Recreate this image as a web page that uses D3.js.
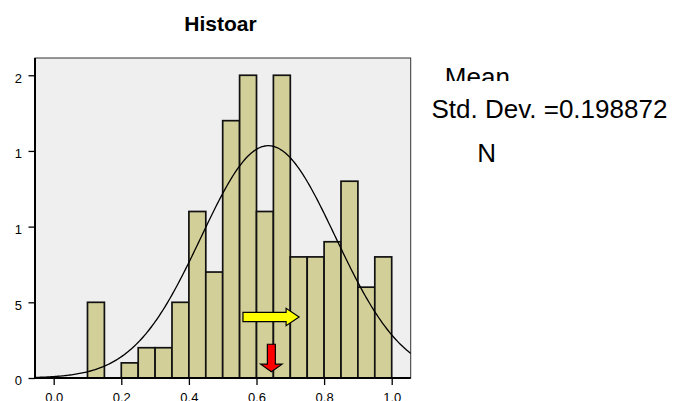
<!DOCTYPE html>
<html>
<head>
<meta charset="utf-8">
<script src="https://cdn.jsdelivr.net/npm/d3@7"></script>
<style>
    body { margin: 0; background: #fff; }
    svg { display: block; font-family: "Liberation Sans", Arial, sans-serif; }
</style>
</head>
<body>
<div id="chart"></div>
<script>
// Histogram bins (start of each 0.05 wide bin) and their counts
const binStarts = [0.10, 0.20, 0.25, 0.30, 0.35, 0.40, 0.45, 0.50, 0.55, 0.60, 0.65, 0.70, 0.75, 0.80, 0.85, 0.90, 0.95];
const counts = [5, 1, 2, 2, 5, 11, 7, 17, 20, 11, 20, 8, 8, 9, 13, 6, 8];
const binWidth = 0.05;

// Axis ticks as printed on the chart
const xTicks = [0.0, 0.2, 0.4, 0.6, 0.8, 1.0];
const xTickLabels = ["0.0", "0.2", "0.4", "0.6", "0.8", "1.0"];
const yTicks = [0, 5, 10, 15, 20];
const yTickLabels = ["0", "5", "1", "1", "2"];

// Normal curve parameters
const mean = 0.635;
const stdDev = 0.198872;
const n = d3.sum(counts);

const title = "Histoar";
const statLabels = ["Mean", "Std. Dev. =0.198872", "N"];

// Set the dimensions
const W = 677, H = 401;
const margin = { top: 58, left: 35 };
const width = 375.7;
const height = 320;

const svg = d3.select("#chart")
    .append("svg")
    .attr("width", W)
    .attr("height", H);

const x = d3.scaleLinear()
    .domain([-0.0553, 1.0562])
    .range([margin.left, margin.left + width]);

const y = d3.scaleLinear()
    .domain([0, 21.14])
    .range([margin.top + height, margin.top]);

// Clip paths for the curve and the cut-off "Mean" label
const defs = svg.append("defs");
defs.append("clipPath").attr("id", "plotClip")
    .append("rect")
    .attr("x", margin.left).attr("y", margin.top)
    .attr("width", width).attr("height", height);
defs.append("clipPath").attr("id", "meanClip")
    .append("rect")
    .attr("x", 420).attr("y", 0)
    .attr("width", 257).attr("height", 81);

// Plot background with thin frame
svg.append("rect")
    .attr("x", margin.left)
    .attr("y", margin.top)
    .attr("width", width)
    .attr("height", height)
    .style("fill", "#efefef")
    .style("stroke", "#333")
    .style("stroke-width", 1);

// Bars
svg.append("g")
    .selectAll("rect")
    .data(binStarts)
    .enter()
    .append("rect")
    .attr("x", d => x(d))
    .attr("y", (d, i) => y(counts[i]))
    .attr("width", d => x(d + binWidth) - x(d))
    .attr("height", (d, i) => y(0) - y(counts[i]))
    .style("fill", "#d3cf99")
    .style("stroke", "#111")
    .style("stroke-width", 1.7);

// Fitted normal curve
const curveX = d3.range(x.domain()[0], x.domain()[1] + 0.004, 0.004);
const density = v => n * binWidth / (stdDev * Math.sqrt(2 * Math.PI)) *
    Math.exp(-0.5 * Math.pow((v - mean) / stdDev, 2));

const line = d3.line()
    .x(d => x(d))
    .y(d => y(density(d)));

svg.append("path")
    .datum(curveX)
    .attr("clip-path", "url(#plotClip)")
    .attr("d", line)
    .style("fill", "none")
    .style("stroke", "#000")
    .style("stroke-width", 1.3);

// Axes
const xAxis = d3.axisBottom(x)
    .tickValues(xTicks)
    .tickSize(7)
    .tickPadding(7.4)
    .tickFormat((d, i) => xTickLabels[i]);

const yAxis = d3.axisLeft(y)
    .tickValues(yTicks)
    .tickSize(6.5)
    .tickPadding(6.5)
    .tickFormat((d, i) => yTickLabels[i]);

const xAxisGroup = svg.append("g")
    .attr("transform", `translate(0, ${margin.top + height})`)
    .call(xAxis);

const yAxisGroup = svg.append("g")
    .attr("transform", `translate(${margin.left}, 0)`)
    .call(yAxis);

[xAxisGroup, yAxisGroup].forEach(g => {
    g.select(".domain").remove();
    g.selectAll(".tick line").style("stroke", "#000").style("stroke-width", 1.3);
    g.selectAll(".tick text")
        .style("font-family", "\"Liberation Sans\", Arial, sans-serif")
        .style("font-size", "13px")
        .style("fill", "#000");
});
yAxisGroup.selectAll(".tick text").attr("dy", "0.53em");

// Heavier axis lines on left and bottom
svg.append("line")
    .attr("x1", margin.left).attr("x2", margin.left)
    .attr("y1", margin.top).attr("y2", margin.top + height + 1)
    .style("stroke", "#000").style("stroke-width", 2);
svg.append("line")
    .attr("x1", margin.left - 1).attr("x2", margin.left + width)
    .attr("y1", margin.top + height).attr("y2", margin.top + height)
    .style("stroke", "#000").style("stroke-width", 2);

// Yellow arrow pointing right
const ya = { x0: x(0.56), x1: x(0.726), yc: y(4.03) };
const yellowPts = [
    [ya.x0, ya.yc - 4.7], [ya.x1 - 13, ya.yc - 4.7], [ya.x1 - 13, ya.yc - 8.7],
    [ya.x1, ya.yc], [ya.x1 - 13, ya.yc + 8.7], [ya.x1 - 13, ya.yc + 4.7],
    [ya.x0, ya.yc + 4.7]
];
svg.append("polygon")
    .attr("points", yellowPts.map(p => p.join(",")).join(" "))
    .style("fill", "#ffff00")
    .style("stroke", "#000")
    .style("stroke-width", 1.2);

// Red arrow pointing down
const ra = { xc: x(0.644), y0: y(2.23), y1: y(0.42) };
const redPts = [
    [ra.xc - 4, ra.y0], [ra.xc + 4, ra.y0], [ra.xc + 4, ra.y1 - 7.5],
    [ra.xc + 10.7, ra.y1 - 7.5], [ra.xc, ra.y1], [ra.xc - 10.7, ra.y1 - 7.5],
    [ra.xc - 4, ra.y1 - 7.5]
];
svg.append("polygon")
    .attr("points", redPts.map(p => p.join(",")).join(" "))
    .style("fill", "#ff0000")
    .style("stroke", "#000")
    .style("stroke-width", 1.2);

// Title
svg.append("text")
    .attr("x", 220.5)
    .attr("y", 30.7)
    .attr("text-anchor", "middle")
    .style("font-size", "21px")
    .style("font-weight", "bold")
    .text(title);

// Statistics text on the right
svg.append("text")
    .attr("x", 444.8).attr("y", 86)
    .attr("clip-path", "url(#meanClip)")
    .style("font-size", "26px")
    .text(statLabels[0]);
svg.append("text")
    .attr("x", 431.5).attr("y", 118)
    .style("font-size", "26px")
    .text(statLabels[1]);
svg.append("text")
    .attr("x", 477.3).attr("y", 162)
    .style("font-size", "26px")
    .text(statLabels[2]);
</script>
</body>
</html>
